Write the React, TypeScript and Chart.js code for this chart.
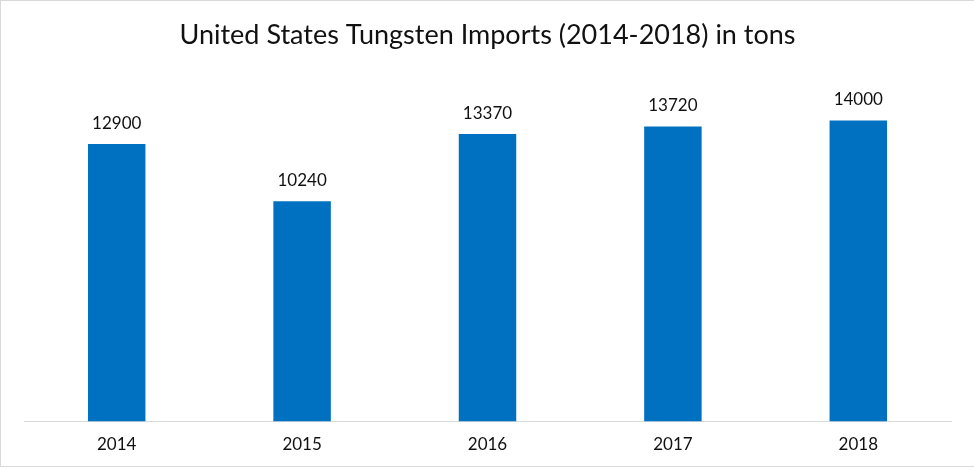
import React, { useEffect, useRef } from "react";
import { Chart, registerables } from "chart.js";

Chart.register(...registerables);

const years = ["2014", "2015", "2016", "2017", "2018"];
const imports = [12900, 10240, 13370, 13720, 14000];
const titleText = "United States Tungsten Imports (2014-2018) in tons";

const FONT = "Lato, 'Open Sans', sans-serif";

const framePlugin = {
  id: "frame",
  beforeDraw(chart: any) {
    const { ctx, width, height } = chart;
    ctx.save();
    ctx.fillStyle = "#ffffff";
    ctx.fillRect(0, 0, width, height);
    ctx.strokeStyle = "#d9d9d9";
    ctx.lineWidth = 1;
    ctx.strokeRect(0.5, 0.5, width + 10, 466);
    ctx.restore();
  },
};

const valueLabels = {
  id: "valueLabels",
  afterDatasetsDraw(chart: any) {
    const { ctx } = chart;
    const meta = chart.getDatasetMeta(0);
    const data = chart.data.datasets[0].data;
    ctx.save();
    ctx.font = `17px ${FONT}`;
    ctx.fillStyle = "#111111";
    ctx.textAlign = "center";
    ctx.textBaseline = "alphabetic";
    meta.data.forEach((bar: any, i: number) => {
      ctx.fillText(String(data[i]), bar.x, bar.y - 15);
    });
    ctx.restore();
  },
};

export default function App() {
  const canvasRef = useRef<HTMLCanvasElement | null>(null);

  useEffect(() => {
    document.body.style.margin = "0";
    const chart = new Chart(canvasRef.current as HTMLCanvasElement, {
      type: "bar",
      data: {
        labels: years,
        datasets: [
          {
            data: imports,
            backgroundColor: "#0070C0",
            barPercentage: 0.62,
            categoryPercentage: 0.5,
          },
        ],
      },
      options: {
        animation: false,
        responsive: false,
        layout: { padding: { left: 24, right: 23, top: 0, bottom: 0 } },
        plugins: {
          legend: { display: false },
          tooltip: { enabled: false },
          title: {
            display: true,
            text: titleText,
            color: "#111111",
            font: { family: FONT, size: 27, weight: "normal" },
            padding: { top: 19, bottom: 26 },
          },
        },
        scales: {
          x: {
            grid: { display: false, drawTicks: false },
            border: { display: true, color: "#d9d9d9", width: 1 },
            ticks: {
              color: "#111111",
              padding: 13,
              font: { family: FONT, size: 17 },
            },
          },
          y: {
            display: false,
            min: 0,
            max: 16000,
          },
        },
      },
      plugins: [framePlugin, valueLabels],
    });
    return () => chart.destroy();
  }, []);

  return (
    <div style={{ position: "absolute", left: 0, top: 0, width: 974, height: 468 }}>
      <canvas ref={canvasRef} width={974} height={468} />
    </div>
  );
}
